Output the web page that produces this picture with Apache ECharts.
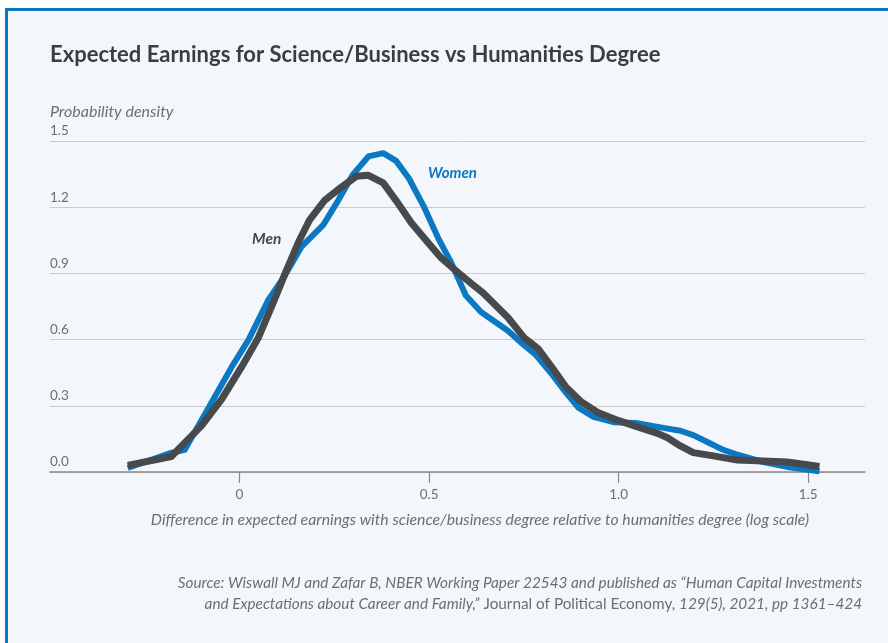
<!DOCTYPE html>
<html>
<head>
<meta charset="utf-8">
<script src="https://cdn.jsdelivr.net/npm/echarts@6/dist/echarts.min.js"></script>
<style>
html,body{margin:0;padding:0;background:#fff;}
#c{width:888px;height:643px;}
</style>
</head>
<body>
<div id="c"></div>
<script>
// Data: [difference (log), density]
const womenData = [
  [-0.295,0.018],[-0.184,0.085],[-0.145,0.10],[-0.082,0.29],[-0.021,0.475],
  [0.024,0.60],[0.076,0.78],[0.116,0.88],[0.163,1.02],[0.221,1.12],
  [0.26,1.23],[0.30,1.35],[0.34,1.43],[0.379,1.445],[0.413,1.41],
  [0.447,1.33],[0.487,1.20],[0.524,1.06],[0.558,0.95],[0.597,0.80],
  [0.637,0.725],[0.708,0.64],[0.747,0.58],[0.782,0.53],[0.821,0.45],
  [0.861,0.36],[0.895,0.29],[0.934,0.25],[0.987,0.226],[1.045,0.222],
  [1.118,0.20],[1.163,0.187],[1.197,0.167],[1.234,0.136],[1.276,0.10],
  [1.316,0.077],[1.382,0.045],[1.445,0.023],[1.53,0.003]
];
const menData = [
  [-0.295,0.03],[-0.18,0.07],[-0.10,0.21],[-0.047,0.33],[0.005,0.475],
  [0.05,0.61],[0.092,0.78],[0.118,0.89],[0.155,1.04],[0.184,1.14],
  [0.224,1.23],[0.268,1.29],[0.308,1.34],[0.339,1.345],[0.379,1.31],
  [0.413,1.23],[0.453,1.13],[0.497,1.04],[0.532,0.97],[0.576,0.905],
  [0.611,0.855],[0.642,0.812],[0.708,0.70],[0.75,0.61],[0.787,0.56],
  [0.826,0.47],[0.861,0.385],[0.90,0.32],[0.945,0.27],[0.997,0.235],
  [1.05,0.204],[1.103,0.175],[1.129,0.155],[1.163,0.118],[1.197,0.088],
  [1.25,0.073],[1.313,0.054],[1.382,0.05],[1.445,0.045],[1.53,0.025]
];
const xTickValues = [0, 0.5, 1.0, 1.5];
const xTickLabels = ['0', '0.5', '1.0', '1.5'];
const yTickLabels = ['0.0', '0.3', '0.6', '0.9', '1.2', '1.5'];
const seriesNames = ['Women', 'Men'];

const BLUE = '#0a78c2';
const DARK = '#474a4c';
const GREY_TXT = '#6e6e6e';
const FONT = 'Lato, "Noto Sans", sans-serif';

const chart = echarts.init(document.getElementById('c'), null, {renderer: 'canvas'});
chart.setOption({
  animation: false,
  backgroundColor: '#ffffff',
  textStyle: {fontFamily: FONT},
  grid: {left: 50, right: 23, top: 141, bottom: 171, containLabel: false},
  xAxis: {
    type: 'value', min: -0.5, max: 1.65, interval: 0.5,
    axisLine: {show: true, lineStyle: {color: '#8a8a8a', width: 1.5}},
    axisTick: {show: true, customValues: xTickValues, length: 11, lineStyle: {color: '#8a8a8a', width: 1.2}},
    axisLabel: {
      customValues: xTickValues, margin: 16, color: GREY_TXT, fontSize: 13.5, fontFamily: FONT,
      formatter: v => { const i = xTickValues.findIndex(t => Math.abs(t - v) < 1e-9); return i >= 0 ? xTickLabels[i] : ''; }
    },
    splitLine: {show: false}
  },
  yAxis: {
    type: 'value', min: 0, max: 1.5, interval: 0.3,
    axisLine: {show: false}, axisTick: {show: false},
    axisLabel: {
      inside: true, margin: 0, align: 'left', verticalAlign: 'bottom', padding: [0, 0, 3, 0],
      color: GREY_TXT, fontSize: 13.5, fontFamily: FONT,
      formatter: v => yTickLabels[Math.round(v / 0.3)]
    },
    splitLine: {show: true, lineStyle: {color: '#c9cbcd', width: 1}}
  },
  series: [
    {name: seriesNames[0], type: 'line', data: womenData, showSymbol: false, smooth: false,
     lineStyle: {color: BLUE, width: 6, join: 'round', cap: 'butt'}, z: 3},
    {name: seriesNames[1], type: 'line', data: menData, showSymbol: false, smooth: false,
     lineStyle: {color: DARK, width: 7, join: 'round', cap: 'butt'}, z: 4}
  ],
  graphic: [
    {type: 'rect', z: -10, silent: true, shape: {x: 5, y: 8, width: 900, height: 700}, style: {fill: '#f3f7fb'}},
    {type: 'rect', z: -9, silent: true, shape: {x: 5, y: 8, width: 900, height: 3}, style: {fill: BLUE}},
    {type: 'rect', z: -9, silent: true, shape: {x: 5, y: 8, width: 3, height: 700}, style: {fill: BLUE}},
    {type: 'text', x: 50, y: 55, style: {text: 'Expected Earnings for Science/Business vs Humanities Degree',
      fill: '#3b3e41', font: 'bold 22px ' + FONT, verticalAlign: 'middle'}},
    {type: 'text', x: 50, y: 112, style: {text: 'Probability density', fill: GREY_TXT, font: 'italic 16px ' + FONT, verticalAlign: 'middle'}},
    {type: 'text', x: 480, y: 520, style: {text: 'Difference in expected earnings with science/business degree relative to humanities degree (log scale)',
      fill: GREY_TXT, font: 'italic 15.8px ' + FONT, align: 'center', verticalAlign: 'middle'}},
    {type: 'text', x: 428, y: 173, style: {text: seriesNames[0], fill: BLUE, font: 'italic bold 15px ' + FONT, verticalAlign: 'middle'}},
    {type: 'text', x: 252, y: 239, style: {text: seriesNames[1], fill: DARK, font: 'italic bold 15.5px ' + FONT, verticalAlign: 'middle'}},
    {type: 'text', x: 862, y: 583, style: {text: 'Source: Wiswall MJ and Zafar B, NBER Working Paper 22543 and published as \u201cHuman Capital Investments',
      fill: GREY_TXT, font: 'italic 15.3px ' + FONT, align: 'right', verticalAlign: 'middle'}},
    {type: 'text', x: 862, y: 604, style: {
      text: '{i|and Expectations about Career and Family,\u201d}{n| Journal of Political Economy, }{i|129(5), 2021, pp 1361\u2013424}',
      align: 'right', verticalAlign: 'middle',
      rich: {
        i: {fill: GREY_TXT, fontStyle: 'italic', fontSize: 15.3, fontFamily: FONT},
        n: {fill: GREY_TXT, fontStyle: 'normal', fontSize: 15.3, fontFamily: FONT}
      }}}
  ]
});
</script>
</body>
</html>
